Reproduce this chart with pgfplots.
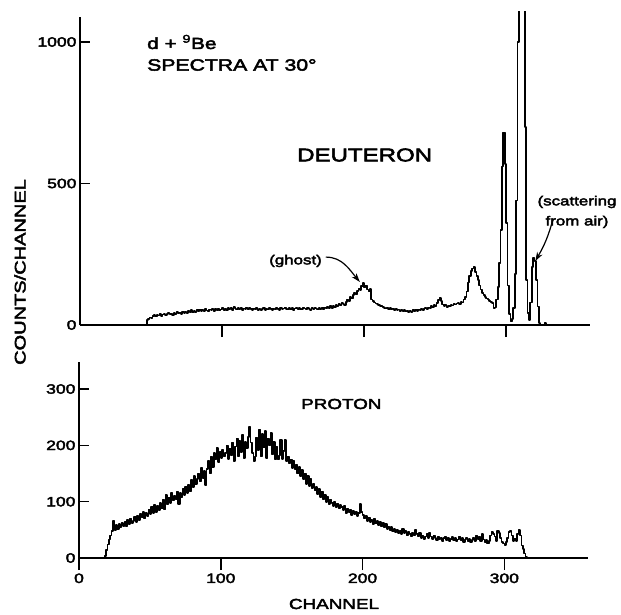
\documentclass[border=0pt]{standalone}
\usepackage{pgfplots}
\pgfplotsset{compat=1.18}
\usepackage{fontspec}
\setmainfont{Liberation Sans}[FakeStretch=1.3, FakeBold=3]
\usetikzlibrary{arrows.meta}
\begin{document}
\begin{tikzpicture}[x=1pt,y=1pt]
\useasboundingbox (0,0) rectangle (621,-615);
\pgfplotsset{
  base/.style={
    scale only axis, xmin=0, xmax=359, ymin=0,
    /pgf/number format/assume math mode=true,
    /pgf/number format/set thousands separator={},
    tick style={line width=1.6pt, black},
    ticklabel style={font=\fontsize{13.5}{15}\selectfont},
  },
  lines/.style={axis x line=bottom, axis y line=#1, axis line style={-, line width=1.9pt}},
}
% ---------------- top panel: deuteron ----------------
\begin{axis}[base, at={(80pt,-325pt)}, anchor=south west, width=510pt, height=313pt, ymax=1106,
  lines=left, tick align=inside, major tick length=10pt,
  xtick=\empty, ytick={0,500,1000}, y axis line style={shorten >=5pt}]
\addplot[const plot, line width=1.7pt, line join=round] coordinates {
(46,0)(47,18)(48,22)(49,27)(50,25)(51,33)(52,35)(53,30)(54,36)(55,34)
(56,38)(57,33)(58,37)(59,40)(60,35)(61,39)(62,42)(63,38)(64,41)(65,36)
(66,43)(67,40)(68,45)(69,41)(70,44)(71,39)(72,46)(73,42)(74,47)(75,43)
(76,49)(77,45)(78,52)(79,46)(80,50)(81,47)(82,53)(83,48)(84,55)(85,50)
(86,54)(87,49)(88,56)(89,51)(90,48)(91,55)(92,52)(93,57)(94,50)(95,56)
(96,53)(97,58)(98,51)(99,55)(100,60)(101,54)(102,58)(103,52)(104,61)(105,56)
(106,59)(107,53)(108,64)(109,58)(110,55)(111,61)(112,57)(113,60)(114,54)(115,58)
(116,56)(117,62)(118,55)(119,59)(120,57)(121,53)(122,58)(123,55)(124,60)(125,54)
(126,57)(127,53)(128,56)(129,59)(130,54)(131,57)(132,55)(133,60)(134,56)(135,53)
(136,58)(137,55)(138,61)(139,57)(140,54)(141,59)(142,56)(143,58)(144,62)(145,57)
(146,55)(147,60)(148,56)(149,59)(150,54)(151,58)(152,61)(153,56)(154,59)(155,55)
(156,57)(157,62)(158,58)(159,55)(160,60)(161,57)(162,54)(163,59)(164,56)(165,61)
(166,58)(167,55)(168,60)(169,57)(170,59)(171,55)(172,62)(173,58)(174,64)(175,60)
(176,66)(177,61)(178,68)(179,64)(180,70)(181,66)(182,74)(183,69)(184,78)(185,73)
(186,70)(187,82)(188,90)(189,86)(190,98)(191,94)(192,105)(193,112)(194,108)(195,120)
(196,128)(197,124)(198,138)(199,148)(200,132)(201,140)(202,125)(203,118)(204,128)(205,90)
(206,84)(207,80)(208,76)(209,73)(210,70)(211,66)(212,68)(213,63)(214,61)(215,58)
(216,62)(217,57)(218,60)(219,55)(220,58)(221,53)(222,56)(223,52)(224,55)(225,50)
(226,53)(227,49)(228,52)(229,48)(230,51)(231,47)(232,50)(233,46)(234,52)(235,48)
(236,53)(237,50)(238,55)(239,52)(240,57)(241,53)(242,58)(243,60)(244,56)(245,62)
(246,60)(247,66)(248,63)(249,70)(250,68)(251,78)(252,88)(253,95)(254,84)(255,72)
(256,66)(257,70)(258,64)(259,68)(260,66)(261,71)(262,69)(263,74)(264,72)(265,76)
(266,78)(267,74)(268,82)(269,80)(270,90)(271,100)(272,118)(273,150)(274,172)(275,190)
(276,200)(277,206)(278,188)(279,172)(280,160)(281,140)(282,125)(283,113)(284,105)(285,100)
(286,94)(287,90)(288,86)(289,82)(290,78)(291,60)(292,62)(293,90)(294,135)(295,220)
(296,335)(297,560)(298,680)(299,570)(300,360)(301,140)(302,40)(303,12)(304,20)(305,60)
(306,180)(307,440)(308,1000)(309,2200)(310,3200)(311,3200)(312,2400)(313,700)(314,160)(315,42)
(316,18)(317,80)(318,206)(319,236)(320,225)(321,159)(322,65)(323,6)(324,0)(326,0)
(327,8)(328,0)(329,0)
};
\draw[-{Stealth[length=9pt,width=6pt]}, line width=1.2pt] (axis cs:173,240) to[out=0, in=130] (axis cs:197,152);
\draw[-{Stealth[length=9pt,width=6pt]}, line width=1.2pt] (axis cs:333,375) to[out=-105, in=60] (axis cs:320.5,226);
\end{axis}
\begin{axis}[base, at={(80pt,-325pt)}, anchor=south west, width=510pt, height=313pt, ymax=1106,
  axis x line=bottom, axis y line=none, tick align=outside, major tick length=12pt,
  xtick={100,200,300}, xticklabels={}, ytick=\empty, axis line style={draw=none}]
\end{axis}
% ---------------- bottom panel: proton ----------------
\begin{axis}[base, at={(79pt,-558pt)}, anchor=south west, width=509pt, height=196pt, ymax=348,
  lines=left, tick align=inside, major tick length=10pt,
  xtick=\empty, ytick={0,100,200,300}]
\addplot[const plot, line width=1.7pt, line join=round] coordinates {
(17,0)(18,4)(19,14)(20,24)(21,33)(22,40)(23,48)(24,66)(25,50)
(26,58)(27,52)(28,60)(29,55)(30,62)(31,57)(32,64)(33,56)(34,68)(35,60)
(36,70)(37,62)(38,66)(39,73)(40,64)(41,75)(42,68)(43,78)(44,72)(45,82)
(46,70)(47,80)(48,74)(49,86)(50,78)(51,90)(52,80)(53,94)(54,82)(55,92)
(56,85)(57,98)(58,88)(59,104)(60,86)(61,112)(62,95)(63,106)(64,98)(65,115)
(66,102)(67,110)(68,104)(69,118)(70,96)(71,116)(72,108)(73,122)(74,112)(75,126)
(76,115)(77,130)(78,118)(79,138)(80,126)(81,145)(82,132)(83,140)(84,150)(85,136)
(86,160)(87,142)(88,155)(89,130)(90,158)(91,172)(92,150)(93,180)(94,162)(95,186)
(96,175)(97,195)(98,170)(99,188)(100,178)(101,192)(102,180)(103,186)(104,200)(105,176)
(106,194)(107,182)(108,205)(109,172)(110,198)(111,212)(112,180)(113,208)(114,188)(115,218)
(116,178)(117,206)(118,195)(119,215)(120,232)(121,205)(122,186)(123,172)(124,180)(125,214)
(126,192)(127,228)(128,180)(129,220)(130,196)(131,225)(132,178)(133,212)(134,200)(135,222)
(136,184)(137,206)(138,175)(139,198)(140,175)(141,182)(142,210)(143,176)(144,190)(145,210)
(146,172)(147,180)(148,168)(149,175)(150,160)(151,172)(152,158)(153,166)(154,150)(155,162)
(156,145)(157,156)(158,140)(159,150)(160,132)(161,146)(162,128)(163,140)(164,124)(165,132)
(166,120)(167,126)(168,114)(169,122)(170,108)(171,118)(172,104)(173,112)(174,100)(175,108)
(176,96)(177,104)(178,98)(179,92)(180,100)(181,90)(182,97)(183,88)(184,94)(185,90)
(186,85)(187,92)(188,80)(189,88)(190,82)(191,86)(192,76)(193,84)(194,78)(195,82)
(196,74)(197,80)(198,96)(199,82)(200,76)(201,70)(202,74)(203,66)(204,72)(205,64)
(206,68)(207,60)(208,70)(209,62)(210,66)(211,58)(212,64)(213,56)(214,62)(215,54)
(216,60)(217,52)(218,56)(219,50)(220,55)(221,48)(222,52)(223,46)(224,50)(225,44)
(226,48)(227,42)(228,52)(229,45)(230,48)(231,40)(232,46)(233,42)(234,38)(235,44)
(236,40)(237,50)(238,42)(239,38)(240,44)(241,36)(242,40)(243,34)(244,38)(245,42)
(246,36)(247,44)(248,38)(249,34)(250,40)(251,36)(252,32)(253,38)(254,34)(255,36)
(256,30)(257,35)(258,38)(259,32)(260,36)(261,30)(262,34)(263,37)(264,32)(265,35)
(266,30)(267,33)(268,38)(269,31)(270,35)(271,29)(272,33)(273,36)(274,30)(275,34)
(276,28)(277,32)(278,36)(279,30)(280,40)(281,34)(282,38)(283,30)(284,42)(285,33)
(286,28)(287,32)(288,26)(289,30)(290,40)(291,46)(292,42)(293,38)(294,30)(295,48)
(296,44)(297,36)(298,28)(299,26)(300,23)(301,28)(302,36)(303,46)(304,48)(305,40)
(306,30)(307,34)(308,30)(309,42)(310,50)(311,40)(312,22)(313,16)(314,8)(315,2)
(316,0)(317,0)
};
\end{axis}
\begin{axis}[base, at={(79pt,-558pt)}, anchor=south west, width=509pt, height=196pt, ymax=348,
  axis x line=bottom, axis y line=none, tick align=outside, major tick length=12pt,
  xtick={0,100,200,300}, ytick=\empty, axis line style={draw=none}]
\end{axis}
% ---------------- texts ----------------
\node[anchor=west, inner sep=0pt, font=\fontsize{16}{18}\selectfont] at (147,-42) {d + \textsuperscript{9}Be};
\node[anchor=west, inner sep=0pt, font=\fontsize{16.3}{18}\selectfont] at (147,-65) {SPECTRA AT 30°};
\node[anchor=west, inner sep=0pt, font=\fontsize{18.5}{20}\selectfont] at (297,-155) {DEUTERON};
\node[anchor=west, inner sep=0pt, font=\fontsize{13}{15}\selectfont] at (269,-261) {(ghost)};
\node[align=center, inner sep=0pt, font=\fontsize{13}{20}\selectfont] at (577,-212) {(scattering\\from air)};
\node[anchor=west, inner sep=0pt, font=\fontsize{14.5}{17}\selectfont] at (301,-404) {PROTON};
\node[rotate=90, inner sep=0pt, font=\fontsize{15.4}{17}\selectfont] at (20,-272) {COUNTS/CHANNEL};
\node[inner sep=0pt, font=\fontsize{14.5}{17}\selectfont] at (334,-604) {CHANNEL};
\end{tikzpicture}
\end{document}
